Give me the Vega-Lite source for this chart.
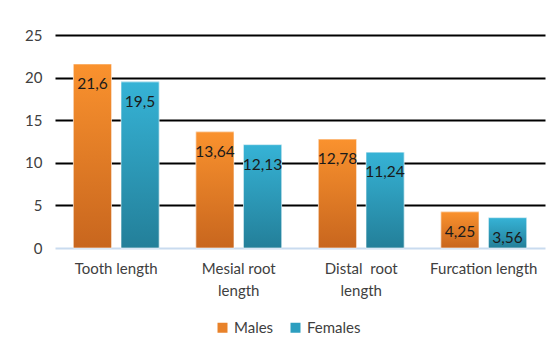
{
  "$schema": "https://vega.github.io/schema/vega-lite/v6.json",
  "width": 490,
  "height": 213,
  "autosize": {"type": "none"},
  "padding": {"left": 55, "top": 35, "right": 13, "bottom": 102},
  "background": "white",
  "config": {"view": {"stroke": null}, "font": "Lato"},
  "data": {
    "values": [
      {"measure": "Tooth length", "sex": "Males", "value": 21.6, "label": "21,6"},
      {"measure": "Tooth length", "sex": "Females", "value": 19.5, "label": "19,5"},
      {"measure": "Mesial root|length", "sex": "Males", "value": 13.64, "label": "13,64"},
      {"measure": "Mesial root|length", "sex": "Females", "value": 12.13, "label": "12,13"},
      {"measure": "Distal\u00a0 root|length", "sex": "Males", "value": 12.78, "label": "12,78"},
      {"measure": "Distal\u00a0 root|length", "sex": "Females", "value": 11.24, "label": "11,24"},
      {"measure": "Furcation length", "sex": "Males", "value": 4.25, "label": "4,25"},
      {"measure": "Furcation length", "sex": "Females", "value": 3.56, "label": "3,56"}
    ]
  },
  "encoding": {
    "x": {
      "field": "measure", "type": "nominal", "sort": null,
      "scale": {"paddingInner": 0.3, "paddingOuter": 0.15},
      "axis": {
        "title": null, "labelAngle": 0, "ticks": false, "domain": false,
        "labelExpr": "split(datum.label, '|')",
        "labelFontSize": 15, "labelColor": "#404040", "labelPadding": 13, "labelLineHeight": 22
      }
    },
    "xOffset": {"field": "sex", "type": "nominal", "sort": ["Males", "Females"], "scale": {"paddingInner": 0.2}},
    "y": {
      "field": "value", "type": "quantitative",
      "scale": {"domain": [0, 25], "nice": false},
      "axis": {
        "title": null, "values": [0, 5, 10, 15, 20, 25], "ticks": false, "domain": false,
        "labelFontSize": 15, "labelColor": "#404040", "labelPadding": 13,
        "gridColor": {"expr": "datum.value === 0 ? '#c9dbef' : 'black'"}, "gridWidth": 2, "gridOpacity": 1
      }
    }
  },
  "layer": [
    {
      "mark": {"type": "bar"},
      "encoding": {
        "color": {
          "field": "sex", "type": "nominal", "sort": ["Males", "Females"],
          "scale": {"domain": ["Males", "Females"], "range": ["#E8822A", "#2C9EBF"]},
          "legend": {
            "title": null, "orient": "none", "direction": "horizontal",
            "legendX": 160, "legendY": 285, "symbolType": "square", "symbolSize": 100,
            "labelFontSize": 15, "labelColor": "#404040", "columnPadding": 14, "symbolOpacity": 1
          }
        }
      }
    },
    {
      "mark": {"type": "bar", "stroke": "#ffffff", "strokeWidth": 1, "strokeOpacity": 0.6},
      "encoding": {
        "fill": {
          "condition": {
            "test": "datum.sex === 'Males'",
            "value": {"gradient": "linear", "x1": 0, "y1": 0, "x2": 0, "y2": 1,
              "stops": [{"offset": 0, "color": "#FA922E"}, {"offset": 1, "color": "#C8661E"}]}
          },
          "value": {"gradient": "linear", "x1": 0, "y1": 0, "x2": 0, "y2": 1,
            "stops": [{"offset": 0, "color": "#36B3D6"}, {"offset": 1, "color": "#237F99"}]}
        }
      }
    },
    {
      "mark": {"type": "text", "baseline": "middle", "dy": 20, "fontSize": 15.5, "color": "#1a1a1a"},
      "encoding": {"text": {"field": "label"}}
    }
  ]
}
